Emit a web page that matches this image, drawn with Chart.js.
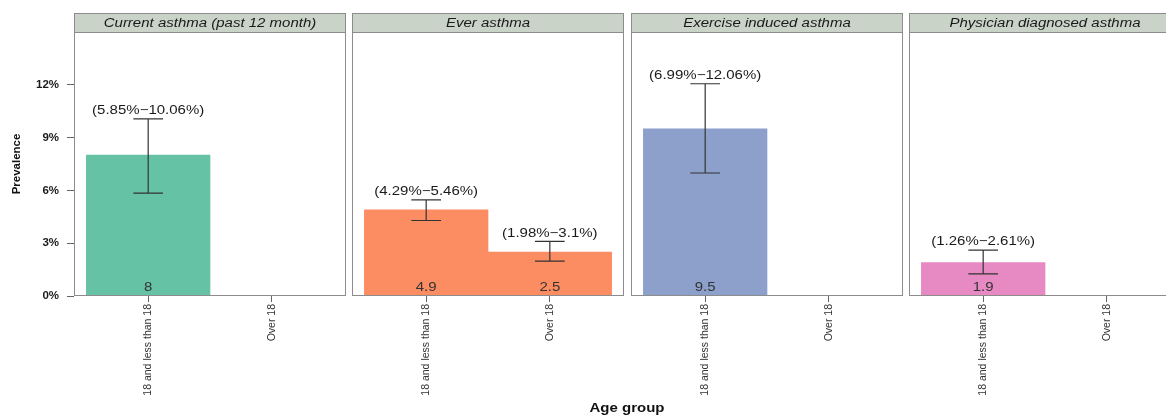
<!DOCTYPE html>
<html>
<head>
<meta charset="utf-8">
<script src="https://cdn.jsdelivr.net/npm/chart.js@4.4.0/dist/chart.umd.min.js"></script>
<style>
    body { margin: 0; width: 1166px; height: 416px; overflow: hidden; background: #fff; position: relative;
           font-family: "Liberation Sans", Arial, sans-serif; }
    .panel { position: absolute; top: 0; height: 416px; }
    #xTitle { position: absolute; left: 527px; width: 200px; top: 401px; text-align: center;
              font-weight: bold; font-size: 12.5px; color: #111; transform: scaleX(1.2); }
</style>
</head>
<body>
<div class="panel" id="p0"><canvas id="c0"></canvas></div>
<div class="panel" id="p1"><canvas id="c1"></canvas></div>
<div class="panel" id="p2"><canvas id="c2"></canvas></div>
<div class="panel" id="p3"><canvas id="c3"></canvas></div>
<div id="xTitle">Age group</div>
<script>
var panelTitles = ["Current asthma (past 12 month)", "Ever asthma", "Exercise induced asthma", "Physician diagnosed asthma"];
var ageGroups = ["18 and less than 18", "Over 18"];
var barColors = ["#66C2A5", "#FC8D62", "#8DA0CB", "#E78AC3"];
var prevalence = [[8, null], [4.9, 2.5], [9.5, null], [1.9, null]];
var ciLow = [[5.85, null], [4.29, 1.98], [6.99, null], [1.26, null]];
var ciHigh = [[10.06, null], [5.46, 3.1], [12.06, null], [2.61, null]];
var yTicks = [0, 3, 6, 9, 12];
var yMax = 15;

// layout of the panels (plot area left edge, width)
var areaLeft = [74, 352, 631, 909];
var areaWidth = 272;
var stripTop = 13;
var stripHeight = 19;
var textStretch = 1.2;
var labelFont = '12.5px "Liberation Sans", Arial, sans-serif';

// the picture's text is a bit wider than tall, so stretch it
function wideText(ctx, text, x, y) {
    ctx.save();
    ctx.translate(x, y);
    ctx.scale(textStretch, 1);
    ctx.fillText(text, 0, 0);
    ctx.restore();
}

var panelPlugin = {
    id: 'panelPlugin',
    afterDatasetsDraw: function (chart) {
        var ctx = chart.ctx;
        var a = chart.chartArea;
        var k = chart.options.panelIndex;
        var xs = chart.scales.x;
        var ys = chart.scales.y;
        ctx.save();

        // strip
        ctx.fillStyle = '#c9d3c8';
        ctx.fillRect(a.left, stripTop, a.right - a.left, stripHeight);
        ctx.strokeStyle = '#8c8c8c';
        ctx.lineWidth = 1;
        ctx.strokeRect(a.left + 0.5, stripTop + 0.5, a.right - a.left - 1, stripHeight);
        ctx.fillStyle = '#1a1a1a';
        ctx.font = 'italic ' + labelFont;
        ctx.textAlign = 'center';
        ctx.textBaseline = 'middle';
        wideText(ctx, panelTitles[k], (a.left + a.right) / 2, stripTop + stripHeight / 2 + 1);

        // panel border
        ctx.strokeStyle = '#8c8c8c';
        ctx.strokeRect(a.left + 0.5, a.top + 0.5, a.right - a.left - 1, a.bottom - a.top - 1);

        for (var i = 0; i < ageGroups.length; i++) {
            var v = prevalence[k][i];
            if (v === null) continue;
            var x = xs.getPixelForValue(i + 1);
            var x0 = xs.getPixelForValue(i + 1 - 0.12);
            var x1 = xs.getPixelForValue(i + 1 + 0.12);
            var yl = ys.getPixelForValue(ciLow[k][i]);
            var yh = ys.getPixelForValue(ciHigh[k][i]);

            // error bar
            ctx.strokeStyle = '#333';
            ctx.lineWidth = 1.2;
            ctx.beginPath();
            ctx.moveTo(x, yl); ctx.lineTo(x, yh);
            ctx.moveTo(x0, yl); ctx.lineTo(x1, yl);
            ctx.moveTo(x0, yh); ctx.lineTo(x1, yh);
            ctx.stroke();

            // CI label
            ctx.fillStyle = '#1a1a1a';
            ctx.font = labelFont;
            ctx.textBaseline = 'bottom';
            wideText(ctx, '(' + ciLow[k][i] + '%\u2212' + ciHigh[k][i] + '%)', x, yh - 2);

            // value label
            ctx.fillStyle = '#333';
            ctx.textBaseline = 'middle';
            wideText(ctx, String(v), x, ys.getPixelForValue(0) - 8);
        }
        ctx.restore();
    }
};

for (var k = 0; k < 4; k++) {
    var first = (k === 0);
    var div = document.getElementById('p' + k);
    var divLeft = first ? 0 : areaLeft[k] - 4;
    div.style.left = divLeft + 'px';
    div.style.width = (areaLeft[k] + areaWidth + 4 - divLeft) + 'px';

    var points = [];
    for (var i = 0; i < ageGroups.length; i++) {
        points.push({ x: i + 1, y: prevalence[k][i] });
    }

    new Chart(document.getElementById('c' + k), {
        type: 'bar',
        data: {
            datasets: [{
                data: points,
                backgroundColor: barColors[k],
                barPercentage: 1,
                categoryPercentage: 1
            }]
        },
        options: {
            panelIndex: k,
            responsive: true,
            maintainAspectRatio: false,
            animation: false,
            layout: { padding: { left: first ? 0 : 4, right: 4, top: 32, bottom: 10 } },
            plugins: { legend: { display: false }, tooltip: { enabled: false } },
            scales: {
                x: {
                    type: 'linear',
                    offset: false,
                    min: 0.4,
                    max: 2.6,
                    afterBuildTicks: function (scale) {
                        scale.ticks = ageGroups.map(function (g, i) { return { value: i + 1 }; });
                    },
                    afterFit: function (scale) { scale.height = 110; },
                    grid: { offset: false, drawOnChartArea: false, tickLength: 6, color: '#666' },
                    border: { display: false },
                    ticks: {
                        maxRotation: 90,
                        minRotation: 90,
                        autoSkip: false,
                        padding: 2,
                        color: '#333',
                        font: { size: 10.5, family: '"Liberation Sans", Arial, sans-serif' },
                        callback: function (value) { return ageGroups[value - 1]; }
                    }
                },
                y: {
                    display: first,
                    min: 0,
                    max: yMax,
                    afterBuildTicks: function (scale) {
                        scale.ticks = yTicks.map(function (v) { return { value: v }; });
                    },
                    afterFit: function (scale) {
                        scale.width = scale.chart.options.panelIndex === 0 ? 74 : 0;
                    },
                    grid: { drawOnChartArea: false, tickLength: 7, color: '#666' },
                    border: { display: false },
                    ticks: {
                        padding: 8,
                        color: '#1a1a1a',
                        font: { size: 11.5, weight: 'bold', family: '"Liberation Sans", Arial, sans-serif' },
                        callback: function (value) { return value + '%'; }
                    },
                    title: {
                        display: true,
                        text: 'Prevalence',
                        color: '#111',
                        padding: { top: 10, bottom: 0 },
                        font: { size: 11.5, weight: 'bold', family: '"Liberation Sans", Arial, sans-serif' }
                    }
                }
            }
        },
        plugins: [panelPlugin]
    });
}
</script>
</body>
</html>
